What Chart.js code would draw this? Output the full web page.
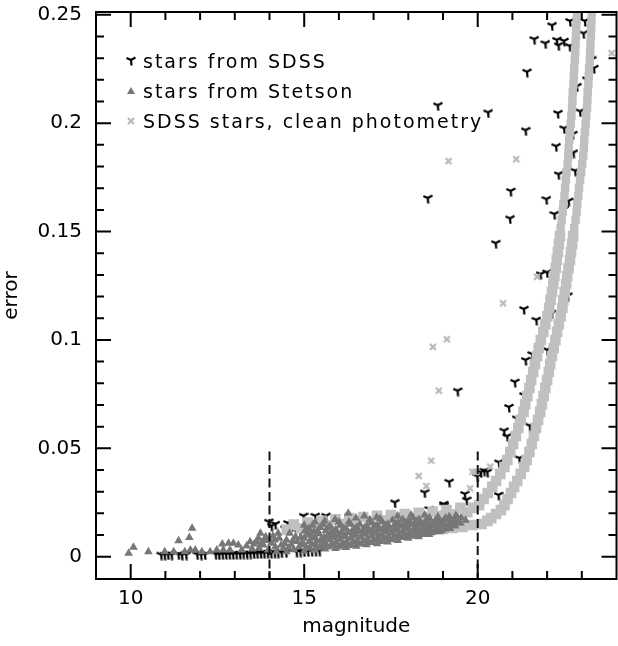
<!DOCTYPE html>
<html lang="en">
<head>
<meta charset="UTF-8">
<title>error vs magnitude</title>
<script src="https://cdn.jsdelivr.net/npm/chart.js"></script>
<style>
  html, body { margin: 0; padding: 0; background: #fff; overflow: hidden; }
  #plot { display: block; }
</style>
</head>
<body>
<canvas id="plot" width="624" height="646"></canvas>
<script>
// axes
const xTicks = [10, 15, 20];
const xTickLabels = ['10', '15', '20'];
const yTicks = [0, 0.05, 0.1, 0.15, 0.2, 0.25];
const yTickLabels = ['0', '0.05', '0.1', '0.15', '0.2', '0.25'];
const xRange = [9, 24];
const yRange = [-0.0103, 0.2513];

// dashed cut lines
const cutMags = [14, 20];
const cutTop = 0.0485;

const seriesNames = ['stars from SDSS', 'stars from Stetson', 'SDSS stars, clean photometry'];

// [magnitude, error]
const sdssStars = [
  [22.14,0.2447],[22.66,0.2467],[21.63,0.2383],[21.95,0.2364],[22.28,0.2380],[22.49,0.2375],[22.33,0.2355],
  [22.65,0.2352],[23.09,0.2467],[23.05,0.2410],[23.29,0.2290],[21.42,0.2233],[22.86,0.2166],[23.14,0.2198],
  [20.30,0.2045],[22.31,0.2042],[18.85,0.2078],[21.38,0.1963],[22.49,0.1972],[22.74,0.1945],[22.26,0.1889],
  [22.76,0.1860],[22.33,0.1760],[22.81,0.1776],[20.95,0.1683],[18.56,0.1650],[21.98,0.1645],[22.62,0.1637],
  [22.21,0.1576],[20.93,0.1556],[20.52,0.1442],[22.33,0.1430],[22.00,0.1307],[21.81,0.1299],[21.33,0.1138],
  [21.69,0.1088],[22.14,0.1119],[21.38,0.0903],[21.57,0.0930],[21.07,0.0802],[21.33,0.0741],[20.90,0.0686],
  [19.42,0.0761],[21.12,0.0634],[20.76,0.0577],[20.85,0.0551],[20.61,0.0431],[20.09,0.0385],[20.19,0.0392],
  [20.28,0.0387],[19.99,0.0366],[19.18,0.0341],[19.63,0.0285],[19.68,0.0258],[19.02,0.0238],[18.47,0.0292],
  [17.61,0.0246],[18.61,0.0215],[19.04,0.0231],[17.89,0.0189],
  [22.95,0.2050],[22.50,0.1600],[22.00,0.0950],[21.50,0.0600],[22.60,0.1200],[21.20,0.0450],[20.60,0.0280],[23.35,0.2250],
  [13.98,0.0157],[14.06,0.0138],[14.17,0.0146],[14.53,0.0151],[14.46,0.0126],[14.75,0.0131],[14.89,0.0108],
  [14.98,0.0184],[15.32,0.0184],[15.63,0.0184],[15.08,0.0131],[14.65,0.0138],
  [10.88,0.0005],[10.98,0.0004],[11.08,0.0006],[11.18,0.0005],[11.38,0.0006],[11.48,0.0004],[11.60,0.0005],
  [11.92,0.0006],[12.03,0.0005],[12.14,0.0006],[12.45,0.0007],[12.55,0.0006],[12.65,0.0007],[12.75,0.0008],
  [12.85,0.0007],[12.95,0.0008],[13.05,0.0008],[13.15,0.0009],[13.25,0.0009],[13.35,0.0010],[13.45,0.0010],
  [13.55,0.0011],[13.65,0.0011],[13.75,0.0012],[13.85,0.0012],[13.95,0.0013],[14.05,0.0013],[14.15,0.0014],
  [14.25,0.0014],[14.35,0.0015],[14.48,0.0016],[14.78,0.0018],[14.89,0.0019],[15.00,0.0020],[15.11,0.0021],
  [15.22,0.0022],[15.33,0.0022],[15.44,0.0023]
];

const stetsonStars = [
  [9.94,0.0016],[10.08,0.0043],[10.51,0.0023],[10.98,0.0023],[11.24,0.0023],[11.38,0.0074],[11.56,0.0023],
  [11.69,0.0088],[11.77,0.0131],[11.72,0.0031],[11.86,0.0031],[12.05,0.0023],[12.29,0.0023],[12.48,0.0031],
  [12.64,0.0059],[12.67,0.0031],[12.82,0.0062],[12.86,0.0031],[12.96,0.0062],[13.10,0.0054],[13.20,0.0031],
  [13.34,0.0049],[13.44,0.0069],[13.50,0.0035],[13.56,0.0059],[13.68,0.0085],[13.70,0.0040],[13.74,0.0108],
  [13.82,0.0054],[13.87,0.0077],[13.89,0.0092],[13.96,0.0031],[14.05,0.0062],[14.10,0.0095],[14.15,0.0077],
  [14.17,0.0046],[14.20,0.0023],[14.25,0.0108],[14.34,0.0054],[14.40,0.0038],[14.49,0.0077],[14.49,0.0023],
  [14.58,0.0108],[14.63,0.0054],[14.70,0.0032],[14.75,0.0092],[14.85,0.0045],[14.94,0.0062],
  [13.62,0.0070],[13.78,0.0065],[14.00,0.0075],[14.28,0.0085],[14.44,0.0060],[14.55,0.0040],[14.67,0.0075],
  [14.80,0.0070],[14.90,0.0088],
  [15.00,0.0025],[15.00,0.0055],[15.00,0.0085],[15.02,0.0118],[15.00,0.0145],
  [15.15,0.0040],[15.15,0.0070],[15.17,0.0100],[15.13,0.0130],
  [15.30,0.0030],[15.32,0.0058],[15.30,0.0088],[15.28,0.0115],[15.31,0.0160],
  [15.45,0.0045],[15.47,0.0075],[15.43,0.0105],[15.46,0.0135],
  [15.60,0.0035],[15.61,0.0062],[15.58,0.0090],[15.62,0.0120],[15.59,0.0165],
  [15.75,0.0048],[15.73,0.0078],[15.77,0.0108],[15.74,0.0142],
  [15.90,0.0038],[15.92,0.0068],[15.88,0.0095],[15.91,0.0125],[15.89,0.0172],
  [16.05,0.0050],[16.03,0.0080],[16.07,0.0110],[16.04,0.0145],
  [16.20,0.0042],[16.22,0.0070],[16.18,0.0098],[16.21,0.0128],[16.27,0.0200],
  [16.35,0.0055],[16.33,0.0085],[16.37,0.0115],[16.34,0.0150],
  [16.50,0.0048],[16.52,0.0075],[16.48,0.0105],[16.51,0.0135],[16.49,0.0178],
  [16.65,0.0060],[16.63,0.0090],[16.67,0.0120],[16.73,0.0188],
  [16.80,0.0055],[16.82,0.0082],[16.78,0.0110],[16.81,0.0140],
  [16.95,0.0065],[16.93,0.0095],[16.97,0.0125],[16.94,0.0158],
  [17.10,0.0060],[17.12,0.0088],[17.08,0.0115],[17.11,0.0145],[17.09,0.0182],
  [17.25,0.0072],[17.23,0.0100],[17.27,0.0130],[17.24,0.0162],
  [17.40,0.0068],[17.42,0.0095],[17.38,0.0122],[17.41,0.0150],
  [17.55,0.0080],[17.53,0.0108],[17.57,0.0138],[17.54,0.0168],
  [17.70,0.0075],[17.72,0.0102],[17.68,0.0130],[17.71,0.0158],[17.69,0.0188],
  [17.85,0.0088],[17.83,0.0115],[17.87,0.0145],[17.84,0.0172],
  [18.00,0.0085],[18.02,0.0110],[17.98,0.0138],[18.01,0.0165],[18.08,0.0192],
  [18.15,0.0095],[18.13,0.0122],[18.17,0.0150],[18.14,0.0178],
  [18.30,0.0092],[18.32,0.0118],[18.28,0.0145],[18.31,0.0172],
  [18.45,0.0105],[18.43,0.0130],[18.47,0.0158],[18.47,0.0192],
  [18.60,0.0102],[18.62,0.0128],[18.58,0.0155],[18.61,0.0180],
  [18.75,0.0115],[18.73,0.0140],[18.77,0.0165],
  [18.90,0.0115],[18.92,0.0140],[18.88,0.0168],[18.85,0.0184],
  [19.05,0.0128],[19.03,0.0152],[19.07,0.0178],
  [19.20,0.0130],[19.22,0.0158],[19.18,0.0185],
  [19.35,0.0142],[19.33,0.0168],[19.37,0.0190],
  [19.50,0.0155],[19.52,0.0180],
  [19.65,0.0168],
  [15.07,0.0040],[15.08,0.0100],[15.22,0.0055],[15.23,0.0085],[15.24,0.0145],[15.38,0.0040],[15.37,0.0072],
  [15.39,0.0120],[15.52,0.0050],[15.53,0.0082],[15.54,0.0150],[15.67,0.0045],[15.68,0.0098],[15.69,0.0132],
  [15.82,0.0058],[15.83,0.0088],[15.84,0.0118],[15.97,0.0045],[15.98,0.0100],[16.00,0.0160],[16.12,0.0060],
  [16.13,0.0092],[16.14,0.0130],[16.27,0.0050],[16.28,0.0112],[16.29,0.0160],[16.42,0.0068],[16.43,0.0098],
  [16.44,0.0128],[16.57,0.0058],[16.58,0.0115],[16.60,0.0150],[16.72,0.0072],[16.73,0.0103],[16.74,0.0135],
  [16.87,0.0065],[16.88,0.0118],[16.89,0.0170],[17.02,0.0078],[17.03,0.0108],[17.04,0.0140],[17.17,0.0070],
  [17.18,0.0125],[17.19,0.0175],[17.32,0.0085],[17.33,0.0115],[17.34,0.0145],[17.47,0.0078],[17.48,0.0130],
  [17.62,0.0092],[17.63,0.0122],[17.64,0.0152],[17.77,0.0088],[17.78,0.0140],[17.92,0.0098],[17.93,0.0128],
  [17.94,0.0158],[18.07,0.0095],[18.08,0.0150],[18.22,0.0105],[18.23,0.0135],[18.24,0.0165],[18.37,0.0102],
  [18.38,0.0150],[18.52,0.0115],[18.53,0.0142],[18.54,0.0170],[18.67,0.0110],[18.68,0.0152],[18.82,0.0125],
  [18.83,0.0155],[18.97,0.0122],[18.98,0.0160],[19.12,0.0140],[19.13,0.0170],[19.27,0.0145],[19.42,0.0155],
  [19.43,0.0180]
];

// clean photometry: the two dense branches and the flat part
const cleanUpper = [
  [22.86,0.2512],[22.85,0.2475],[22.84,0.2438],[22.83,0.2401],[22.82,0.2364],[22.81,0.2328],[22.80,0.2291],
  [22.78,0.2254],[22.77,0.2217],[22.76,0.2180],[22.74,0.2143],[22.73,0.2106],[22.72,0.2070],[22.70,0.2033],
  [22.68,0.1996],[22.66,0.1959],[22.64,0.1922],[22.62,0.1885],[22.61,0.1848],[22.59,0.1811],[22.56,0.1774],
  [22.54,0.1738],[22.52,0.1701],[22.50,0.1664],[22.47,0.1627],[22.45,0.1590],[22.42,0.1553],[22.39,0.1516],
  [22.37,0.1479],[22.34,0.1442],[22.31,0.1406],[22.28,0.1369],[22.25,0.1332],[22.21,0.1295],[22.18,0.1258],
  [22.14,0.1221],[22.10,0.1184],[22.06,0.1147],[22.01,0.1110],[21.95,0.1073],[21.89,0.1037],[21.82,0.1000],
  [21.76,0.0963],[21.71,0.0926],[21.65,0.0889],[21.60,0.0852],[21.54,0.0815],[21.49,0.0778],[21.43,0.0741],
  [21.37,0.0704],[21.32,0.0668],[21.24,0.0631],[21.17,0.0594],[21.10,0.0557],[21.02,0.0520],[20.94,0.0483],
  [20.85,0.0446],[20.77,0.0414],[20.65,0.0382],[20.53,0.0349],[20.42,0.0322],[20.29,0.0294],[20.17,0.0266],
  [20.04,0.0238],[19.87,0.0225]
];
const cleanLowerBranch = [
  [23.29,0.2512],[23.28,0.2475],[23.27,0.2438],[23.26,0.2401],[23.25,0.2364],[23.24,0.2328],[23.23,0.2291],
  [23.21,0.2254],[23.20,0.2217],[23.19,0.2180],[23.17,0.2143],[23.16,0.2106],[23.15,0.2070],[23.13,0.2033],
  [23.11,0.1996],[23.09,0.1959],[23.07,0.1922],[23.06,0.1885],[23.04,0.1848],[23.01,0.1811],[22.98,0.1774],
  [22.95,0.1738],[22.92,0.1701],[22.90,0.1664],[22.87,0.1627],[22.85,0.1590],[22.82,0.1553],[22.78,0.1516],
  [22.75,0.1479],[22.72,0.1442],[22.69,0.1406],[22.66,0.1369],[22.62,0.1332],[22.58,0.1295],[22.55,0.1258],
  [22.51,0.1221],[22.47,0.1184],[22.44,0.1147],[22.39,0.1110],[22.34,0.1073],[22.29,0.1037],[22.24,0.1000],
  [22.19,0.0963],[22.14,0.0926],[22.09,0.0889],[22.05,0.0852],[22.00,0.0815],[21.95,0.0778],[21.90,0.0741],
  [21.85,0.0704],[21.80,0.0668],[21.74,0.0631],[21.68,0.0594],[21.62,0.0557],[21.56,0.0520],[21.49,0.0483],
  [21.41,0.0446],[21.34,0.0414],[21.24,0.0382],[21.14,0.0349],[21.05,0.0322],[20.96,0.0294],[20.86,0.0266],
  [20.77,0.0238],[20.67,0.0215],[20.53,0.0197],[20.39,0.0178],[20.28,0.0165],[20.11,0.0151],[19.85,0.0146],
  [19.56,0.0137],[19.28,0.0132],[18.99,0.0128]
];
const cleanFlat = [
  [14.5,0.0125],[14.7,0.0148],[14.9,0.0130],[15.1,0.0158],[15.3,0.0138],[15.5,0.0166],[15.7,0.0146],
  [15.9,0.0172],[16.1,0.0152],[16.3,0.0178],[16.5,0.0158],[16.7,0.0183],[16.9,0.0163],[17.1,0.0188],
  [17.3,0.0168],[17.5,0.0192],[17.7,0.0172],[17.9,0.0197],[18.1,0.0177],[18.3,0.0202],[18.5,0.0183],
  [18.7,0.0208],[18.9,0.0188],[19.1,0.0215],[19.3,0.0195],[19.5,0.0225],[19.7,0.0205]
];
const cleanScatter = [
  [19.16,0.1825],[21.11,0.1834],[21.71,0.1291],[20.73,0.1169],[19.11,0.1003],[18.71,0.0968],[18.88,0.0766],
  [23.86,0.2323],[18.66,0.0443],[18.30,0.0372],[18.52,0.0326],[19.85,0.0392],[19.78,0.0315],[19.95,0.0392],
  [20.36,0.0415]
];

const FONT = 'DejaVu Sans';
Chart.defaults.font.family = FONT;

function pts(arr) {
  return arr.map(([x, y]) => ({ x, y }));
}

function makeGlyph(draw) {
  const c = document.createElement('canvas');
  c.width = 10;
  c.height = 10;
  draw(c.getContext('2d'));
  return c;
}

const sdssGlyph = makeGlyph(g => {
  g.strokeStyle = '#000';
  g.lineWidth = 2.2;
  g.beginPath();
  g.moveTo(0.5, 2); g.lineTo(5, 4); g.lineTo(9.5, 1.5);
  g.moveTo(5, 4); g.lineTo(5.5, 9.5);
  g.stroke();
});

const cleanGlyph = makeGlyph(g => {
  g.strokeStyle = '#b8b8b8';
  g.lineWidth = 2.2;
  g.beginPath();
  g.moveTo(2, 2); g.lineTo(8, 8);
  g.moveTo(8, 2); g.lineTo(2, 8);
  g.stroke();
});

function cutLine(m) {
  return [{ x: m, y: cutTop }, { x: m, y: yRange[0] }];
}

// no label overflow padding, so the plot box sits where the picture has it
function noOverflow(s) {
  s.paddingTop = 0;
  s.paddingBottom = 0;
  s.paddingLeft = 0;
  s.paddingRight = 0;
}

// box with inward ticks on all four sides
const frame = {
  id: 'frame',
  afterDraw(chart) {
    const { ctx, chartArea: a, scales: { x, y } } = chart;
    ctx.save();
    ctx.strokeStyle = '#000';
    ctx.lineWidth = 2;
    ctx.strokeRect(a.left, a.top, a.right - a.left, a.bottom - a.top);
    ctx.beginPath();
    for (let v = 10; v <= 23; v++) {
      const px = x.getPixelForValue(v);
      const len = xTicks.includes(v) ? 15 : 8;
      ctx.moveTo(px, a.bottom); ctx.lineTo(px, a.bottom - len);
      ctx.moveTo(px, a.top); ctx.lineTo(px, a.top + len);
    }
    for (let i = 0; i <= 25; i++) {
      const py = y.getPixelForValue(i / 100);
      const len = i % 5 === 0 ? 15 : 8;
      ctx.moveTo(a.left, py); ctx.lineTo(a.left + len, py);
      ctx.moveTo(a.right, py); ctx.lineTo(a.right - len, py);
    }
    ctx.stroke();
    ctx.restore();
  }
};

const legendBox = {
  id: 'legendBox',
  afterDraw(chart) {
    const ctx = chart.ctx;
    ctx.save();
    ctx.font = '19px "' + FONT + '"';
    ctx.letterSpacing = '2px';
    ctx.fillStyle = '#000';
    ctx.textBaseline = 'middle';
    seriesNames.forEach((name, i) => {
      const yy = 62 + i * 30;
      if (i === 0) {
        ctx.drawImage(sdssGlyph, 126, yy - 6);
      } else if (i === 1) {
        ctx.fillStyle = '#777';
        ctx.beginPath();
        ctx.moveTo(131, yy - 5); ctx.lineTo(135, yy + 2); ctx.lineTo(127, yy + 2);
        ctx.closePath();
        ctx.fill();
        ctx.fillStyle = '#000';
      } else {
        ctx.drawImage(cleanGlyph, 126, yy - 6);
      }
      ctx.fillText(name, 143, yy + 1);
    });
    ctx.restore();
  }
};

const tickFont = { family: FONT, size: 20 };

new Chart(document.getElementById('plot'), {
  type: 'scatter',
  data: {
    datasets: [
      { label: 'cut 14', data: cutLine(cutMags[0]), showLine: true, borderColor: '#111', borderWidth: 2,
        borderDash: [9, 4.5], pointRadius: 0, order: -1 },
      { label: 'cut 20', data: cutLine(cutMags[1]), showLine: true, borderColor: '#111', borderWidth: 2,
        borderDash: [9, 4.5], pointRadius: 0, order: -1 },
      { label: seriesNames[1], data: pts(stetsonStars), pointStyle: 'triangle', pointRadius: 5,
        pointBackgroundColor: '#777', pointBorderWidth: 0, order: 0 },
      { label: seriesNames[2], data: pts(cleanScatter), pointStyle: cleanGlyph, pointRadius: 4, order: 1 },
      { label: seriesNames[2] + ' (dense)', data: pts([...cleanUpper, ...cleanLowerBranch, ...cleanFlat]),
        pointStyle: 'rect', pointRadius: c => (c.raw && c.raw.y > 0.15 ? 6 : 7.5),
        pointBackgroundColor: '#c0c0c0', pointBorderWidth: 0, order: 2 },
      { label: seriesNames[0], data: pts(sdssStars), pointStyle: sdssGlyph, pointRadius: 4, order: 3 }
    ]
  },
  options: {
    responsive: false,
    animation: false,
    devicePixelRatio: 1,
    events: [],
    layout: { padding: { top: 12, right: 4, left: 0, bottom: 0 } },
    plugins: { legend: { display: false }, tooltip: { enabled: false } },
    scales: {
      x: {
        type: 'linear',
        min: xRange[0],
        max: xRange[1],
        afterBuildTicks: s => { s.ticks = xTicks.map(v => ({ value: v })); },
        afterFit: s => { s.height = 67; noOverflow(s); },
        grid: { display: false, drawTicks: false },
        border: { display: false },
        ticks: { callback: (v, i) => xTickLabels[i], font: tickFont, color: '#000', padding: 8,
          maxRotation: 0, autoSkip: false },
        title: { display: true, text: 'magnitude', font: tickFont, color: '#000', padding: { top: 0, bottom: 7 } }
      },
      y: {
        type: 'linear',
        min: yRange[0],
        max: yRange[1],
        afterBuildTicks: s => { s.ticks = yTicks.map(v => ({ value: v })); },
        afterFit: s => { s.width = 96; noOverflow(s); },
        grid: { display: false, drawTicks: false },
        border: { display: false },
        ticks: { callback: (v, i) => yTickLabels[i], font: tickFont, color: '#000', padding: 14, autoSkip: false },
        title: { display: true, text: 'error', font: tickFont, color: '#000', padding: { top: 0, bottom: 0 } }
      }
    }
  },
  plugins: [frame, legendBox]
});
</script>
</body>
</html>
